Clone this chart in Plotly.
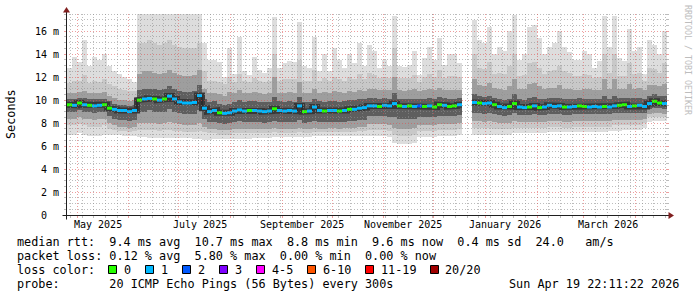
import math
from datetime import datetime, timedelta
import plotly.graph_objects as go

# ---------------- data ----------------
START = datetime(2025, 4, 24, 22, 11, 22)
END = datetime(2026, 4, 19, 22, 11, 22)
STEP_DAYS = 3  # one column = 3 days

median = [
    9.60, 9.55, 9.75, 9.60, 9.55, 9.50, 9.55, 9.60, 9.30, 9.20,
    9.10, 9.10, 9.00, 9.10, 10.00, 10.10, 10.15, 10.10, 10.00, 10.10,
    10.35, 10.10, 9.85, 9.75, 9.75, 9.80, 10.40, 9.30, 9.00, 9.10,
    8.90, 8.85, 8.90, 9.05, 9.15, 9.05, 9.10, 9.10, 9.05, 9.00,
    9.05, 9.25, 9.10, 9.05, 9.10, 9.05, 9.50, 9.00, 9.05, 9.40,
    9.10, 9.05, 9.10, 9.10, 9.05, 9.10, 9.20, 9.20, 9.30, 9.35,
    9.50, 9.50, 9.45, 9.55, 9.50, 9.70, 9.50, 9.45, 9.50, 9.45,
    9.50, 9.45, 9.50, 9.40, 9.60, 9.55, 9.45, 9.50, 9.60, None,
    None, 9.80, 9.75, 9.70, 9.75, 9.60, 9.45, 9.35, 9.45, 9.70,
    9.40, 9.35, 9.40, 9.50, 9.35, 9.40, 9.55, 9.45, 9.50, 9.40,
    9.40, 9.45, 9.50, 9.45, 9.40, 9.45, 9.40, 9.45, 9.40, 9.50,
    9.55, 9.60, 9.45, 9.50, 9.55, 9.45, 9.70, 9.90, 9.75, 9.70,
]
loss = [
    0, 1, 0, 1, 0, 1, 1, 0, 0, 1,
    1, 1, 1, 1, 0, 1, 1, 0, 1, 0,
    1, 1, 1, 1, 1, 1, 1, 1, 1, 1,
    0, 1, 1, 1, 1, 1, 0, 1, 1, 1,
    1, 0, 1, 1, 1, 1, 1, 0, 1, 1,
    1, 0, 1, 1, 0, 1, 0, 1, 1, 1,
    1, 1, 0, 1, 1, 1, 0, 1, 0, 1,
    2, 0, 1, 0, 0, 1, 0, 0, 1, None,
    None, 1, 0, 1, 1, 0, 1, 1, 0, 0,
    1, 1, 0, 1, 0, 1, 1, 1, 1, 0,
    1, 1, 0, 0, 1, 1, 1, 0, 1, 1,
    0, 0, 1, 0, 1, 1, 1, 0, 0, 1,
]
top = [
    12.8, 13.8, 13.3, 15.2, 13.0, 13.8, 13.5, 14.0, 13.0, 12.5,
    12.3, 12.0, 11.8, 11.6, 17.6, 17.6, 17.6, 17.6, 17.6, 17.6,
    17.6, 17.6, 17.6, 17.6, 17.6, 17.6, 17.6, 15.0, 13.5, 13.5,
    13.3, 12.0, 14.5, 12.3, 15.5, 12.5, 12.2, 13.8, 12.6, 12.4,
    12.8, 17.2, 12.8, 13.2, 13.4, 13.3, 16.8, 13.0, 12.8, 15.5,
    12.5, 14.0, 12.5, 14.5, 13.5, 12.8, 14.0, 13.2, 15.0, 13.0,
    14.8, 14.3, 12.8, 13.5, 13.0, 17.3, 13.0, 12.9, 13.1, 14.3,
    12.2, 13.7, 14.6, 13.5, 15.4, 13.1, 14.0, 14.0, 13.2, None,
    None, 17.0, 15.2, 15.0, 16.4, 14.0, 14.6, 14.3, 16.0, 17.4,
    13.5, 14.0, 16.4, 16.5, 15.4, 14.0, 14.6, 15.0, 16.0, 14.6,
    14.2, 13.5, 13.5, 14.3, 14.0, 12.8, 13.4, 17.3, 14.6, 17.3,
    13.7, 13.4, 16.2, 14.3, 14.6, 12.3, 15.2, 14.8, 14.0, 16.0,
]
hi2 = [
    11.5, 11.7, 11.7, 12.2, 11.5, 11.7, 11.6, 11.8, 11.4, 11.2,
    11.0, 10.9, 10.8, 10.8, 15.0, 15.0, 15.2, 15.0, 14.8, 15.0,
    15.2, 14.8, 14.6, 14.5, 14.5, 14.5, 15.0, 12.5, 11.7, 11.7,
    11.6, 11.4, 12.0, 11.6, 12.3, 11.7, 11.6, 11.9, 11.7, 11.6,
    11.7, 14.0, 11.7, 11.8, 11.8, 11.8, 13.5, 11.7, 11.7, 12.6,
    11.7, 11.9, 11.7, 12.0, 11.8, 11.7, 12.0, 11.8, 12.3, 11.8,
    12.4, 12.2, 11.9, 12.0, 11.9, 14.5, 11.9, 11.9, 11.9, 12.2,
    11.6, 12.0, 12.3, 12.0, 12.6, 11.9, 12.1, 12.1, 12.0, None,
    None, 14.0, 12.8, 12.7, 13.3, 12.3, 12.4, 12.3, 13.0, 14.0,
    12.1, 12.2, 13.2, 13.3, 12.8, 12.3, 12.5, 12.6, 13.0, 12.5,
    12.4, 12.1, 12.1, 12.3, 12.2, 11.9, 12.0, 14.0, 12.4, 14.0,
    12.1, 12.1, 13.2, 12.3, 12.4, 11.7, 12.8, 12.7, 12.4, 13.2,
]
hi3 = [
    10.6, 10.6, 10.7, 10.8, 10.6, 10.6, 10.6, 10.7, 10.4, 10.2,
    10.0, 10.0, 9.9, 10.0, 12.3, 12.5, 12.5, 12.4, 12.3, 12.4,
    12.6, 12.4, 12.2, 12.1, 12.1, 12.2, 12.6, 11.0, 10.6, 10.6,
    10.5, 10.4, 10.7, 10.6, 10.9, 10.6, 10.6, 10.7, 10.6, 10.5,
    10.6, 12.0, 10.6, 10.6, 10.7, 10.6, 11.6, 10.6, 10.6, 11.0,
    10.6, 10.7, 10.6, 10.8, 10.7, 10.6, 10.8, 10.7, 10.9, 10.8,
    11.0, 11.0, 10.9, 10.9, 10.9, 12.0, 10.9, 10.8, 10.9, 11.0,
    10.8, 10.9, 11.0, 10.9, 11.1, 10.9, 10.9, 10.9, 10.9, None,
    None, 11.8, 11.3, 11.2, 11.5, 11.1, 11.0, 10.9, 11.2, 11.8,
    11.0, 11.0, 11.4, 11.5, 11.2, 11.0, 11.1, 11.1, 11.3, 11.0,
    11.0, 10.9, 10.9, 11.0, 11.0, 10.9, 10.9, 11.8, 11.0, 11.8,
    11.0, 11.0, 11.4, 11.0, 11.1, 10.9, 11.3, 11.3, 11.2, 11.4,
]
hi4 = [
    10.1, 10.1, 10.2, 10.2, 10.1, 10.1, 10.1, 10.1, 9.9, 9.7,
    9.6, 9.6, 9.5, 9.6, 10.9, 11.0, 11.0, 11.0, 10.9, 11.0,
    11.2, 11.0, 10.8, 10.7, 10.7, 10.8, 11.3, 10.1, 9.8, 9.9,
    9.7, 9.6, 9.7, 9.85, 10.0, 9.85, 9.9, 9.9, 9.85, 9.8,
    9.85, 10.3, 9.9, 9.85, 9.9, 9.85, 10.3, 9.8, 9.85, 10.1,
    9.9, 9.85, 9.9, 9.9, 9.85, 9.9, 10.0, 10.0, 10.1, 10.1,
    10.2, 10.2, 10.1, 10.2, 10.1, 10.6, 10.1, 10.1, 10.1, 10.1,
    10.1, 10.1, 10.2, 10.1, 10.3, 10.2, 10.1, 10.1, 10.2, None,
    None, 10.5, 10.4, 10.3, 10.4, 10.2, 10.1, 10.0, 10.1, 10.5,
    10.1, 10.0, 10.2, 10.3, 10.1, 10.1, 10.2, 10.2, 10.2, 10.1,
    10.1, 10.1, 10.2, 10.1, 10.1, 10.1, 10.1, 10.4, 10.1, 10.4,
    10.2, 10.2, 10.2, 10.2, 10.2, 10.1, 10.4, 10.5, 10.4, 10.4,
]
lo4 = [
    9.0, 9.0, 9.1, 9.0, 9.0, 8.9, 9.0, 9.0, 8.6, 8.4,
    8.3, 8.3, 8.2, 8.3, 9.0, 9.0, 9.1, 9.0, 9.0, 9.0,
    9.2, 9.0, 8.9, 8.8, 8.8, 8.8, 9.1, 8.4, 8.1, 8.1,
    8.0, 7.9, 8.0, 8.1, 8.2, 8.1, 8.1, 8.1, 8.1, 8.0,
    8.1, 8.2, 8.1, 8.1, 8.1, 8.1, 8.3, 8.0, 8.1, 8.2,
    8.1, 8.1, 8.1, 8.1, 8.1, 8.1, 8.2, 8.2, 8.3, 8.3,
    8.6, 8.6, 8.6, 8.6, 8.5, 8.5, 8.4, 8.4, 8.4, 8.4,
    8.5, 8.5, 8.5, 8.5, 8.6, 8.6, 8.6, 8.6, 8.7, None,
    None, 8.9, 8.9, 8.8, 8.9, 8.8, 8.7, 8.6, 8.7, 8.9,
    8.7, 8.7, 8.7, 8.8, 8.7, 8.7, 8.8, 8.8, 8.8, 8.7,
    8.7, 8.8, 8.8, 8.8, 8.8, 8.8, 8.8, 8.8, 8.8, 8.9,
    8.9, 8.9, 8.9, 8.9, 8.9, 8.9, 9.2, 9.3, 9.3, 9.2,
]
lo3 = [
    8.4, 8.4, 8.5, 8.4, 8.4, 8.3, 8.4, 8.4, 8.0, 7.8,
    7.7, 7.7, 7.6, 7.7, 8.0, 8.0, 8.0, 8.0, 7.9, 8.0,
    8.1, 8.0, 7.9, 7.8, 7.8, 7.8, 8.0, 7.7, 7.5, 7.5,
    7.4, 7.4, 7.4, 7.5, 7.5, 7.5, 7.5, 7.5, 7.5, 7.5,
    7.5, 7.6, 7.5, 7.5, 7.5, 7.5, 7.6, 7.5, 7.5, 7.6,
    7.5, 7.5, 7.6, 7.6, 7.5, 7.6, 7.6, 7.6, 7.7, 7.7,
    7.9, 7.9, 7.9, 7.9, 7.8, 7.6, 7.5, 7.5, 7.5, 7.6,
    7.8, 7.8, 7.8, 7.8, 7.9, 7.9, 7.9, 7.9, 8.0, None,
    None, 8.2, 8.2, 8.1, 8.2, 8.1, 8.0, 8.0, 8.0, 8.2,
    8.1, 8.1, 8.1, 8.1, 8.1, 8.1, 8.2, 8.2, 8.2, 8.1,
    8.1, 8.2, 8.2, 8.2, 8.2, 8.2, 8.2, 8.2, 8.2, 8.3,
    8.3, 8.3, 8.3, 8.3, 8.3, 8.4, 8.8, 8.9, 8.9, 8.8,
]
lo2 = [
    7.8, 7.8, 7.9, 7.8, 7.7, 7.7, 7.7, 7.8, 7.5, 7.4,
    7.3, 7.3, 7.2, 7.3, 7.4, 7.4, 7.4, 7.4, 7.3, 7.4,
    7.4, 7.3, 7.3, 7.2, 7.2, 7.2, 7.3, 7.2, 7.1, 7.1,
    7.0, 7.0, 7.0, 7.1, 7.1, 7.1, 7.1, 7.1, 7.1, 7.1,
    7.1, 7.2, 7.1, 7.1, 7.1, 7.1, 7.2, 7.1, 7.1, 7.2,
    7.2, 7.2, 7.2, 7.2, 7.2, 7.2, 7.2, 7.2, 7.3, 7.3,
    7.4, 7.4, 7.4, 7.4, 7.3, 7.0, 6.9, 6.9, 6.9, 7.0,
    7.3, 7.3, 7.3, 7.3, 7.4, 7.4, 7.4, 7.4, 7.5, None,
    None, 7.6, 7.6, 7.6, 7.6, 7.5, 7.5, 7.5, 7.5, 7.6,
    7.6, 7.6, 7.6, 7.6, 7.6, 7.6, 7.7, 7.7, 7.7, 7.6,
    7.6, 7.7, 7.7, 7.7, 7.7, 7.7, 7.7, 7.7, 7.7, 7.8,
    7.8, 7.8, 7.8, 7.8, 7.8, 8.0, 8.5, 8.5, 8.5, 8.5,
]
bot = [
    7.0, 7.0, 7.1, 7.0, 6.9, 6.9, 6.9, 7.0, 7.0, 7.0,
    7.0, 6.9, 6.9, 6.9, 6.8, 6.8, 6.7, 6.7, 6.7, 6.7,
    6.7, 6.7, 6.7, 6.7, 6.7, 6.6, 6.6, 6.5, 6.5, 6.6,
    6.6, 6.6, 6.6, 6.6, 6.6, 6.6, 6.6, 6.7, 6.7, 6.7,
    6.7, 6.8, 6.8, 6.8, 6.8, 6.8, 6.8, 6.8, 6.8, 6.9,
    6.9, 6.9, 6.9, 6.9, 6.9, 6.9, 6.9, 6.9, 6.9, 6.9,
    6.9, 6.9, 6.9, 6.9, 6.8, 6.3, 6.2, 6.2, 6.2, 6.3,
    6.8, 6.8, 6.8, 6.8, 6.9, 6.9, 6.9, 6.9, 7.0, None,
    None, 7.0, 7.0, 7.0, 7.0, 7.0, 7.0, 7.0, 7.0, 7.1,
    7.1, 7.1, 7.1, 7.1, 7.1, 7.1, 7.2, 7.2, 7.2, 7.2,
    7.2, 7.2, 7.2, 7.2, 7.2, 7.2, 7.2, 7.2, 7.3, 7.3,
    7.3, 7.4, 7.4, 7.4, 7.4, 7.6, 8.1, 8.2, 8.2, 8.2,
]

y_ticks = [0, 2, 4, 6, 8, 10, 12, 14, 16]
y_tick_labels = ["0  ", "2 m", "4 m", "6 m", "8 m", "10 m", "12 m", "14 m", "16 m"]
x_label_dates = ["2025-05-13 12:00", "2025-07-13 17:00", "2025-09-12 18:00",
                 "2025-11-12 10:00", "2026-01-12 17:00", "2026-03-15 10:00"]
x_label_text = ["May 2025", "July 2025", "September 2025",
                "November 2025", "January 2026", "March 2026"]

loss_labels = ["0", "1", "2", "3", "4-5", "6-10", "11-19", "20/20"]
loss_colors = ["#26ff00", "#00b8ff", "#0059ff", "#7e00ff", "#ff00ff", "#ff5500", "#ff0000", "#a00000"]
loss_box_px = [108, 145, 182, 219, 256, 307, 365, 430]

legend_rows = [
    "median rtt:  9.4 ms avg  10.7 ms max  8.8 ms min  9.6 ms now  0.4 ms sd  24.0   am/s",
    "packet loss: 0.12 % avg  5.80 % max  0.00 % min  0.00 % now",
    "loss color:",
    "probe:       20 ICMP Echo Pings (56 Bytes) every 300s",
]
date_stamp = "Sun Apr 19 22:11:22 2026"

# ---------------- geometry / styles ----------------
W, H = 697, 297
L, T = 67, 14
PW, PH = 600, 201
YMAX = 17.5
FONT = "DejaVu Sans Mono"
GRID = "rgba(143,143,143,0.6)"
MGRID = "rgba(222,79,79,0.55)"
AXIS = "#1f1f1f"
ARROW = "#801f1f"
DOTS = "1px,2px"
SMOKE = ["#dddddd", "#c8c8c8", "#9e9e9e", "#5e5e5e"]
CORE_COLOR = "#383838"
CORE_WIDTH = 6

span = (END - START).total_seconds()


def t2px(t):
    return L + (t - START).total_seconds() / span * PW


def v2py(v):
    return T + PH * (1 - v / YMAX)


def xp(px):
    return (px - L) / PW


def yp(py):
    return (T + PH - py) / PH


def nb(s):
    return s.replace(" ", "\u00a0")


n = len(median)
col_start = [START + timedelta(days=STEP_DAYS * k) for k in range(n)]
col_end = [START + timedelta(days=STEP_DAYS * (k + 1)) for k in range(n)]
col_mid = [START + timedelta(days=STEP_DAYS * (k + 0.5)) for k in range(n)]
bar_w = STEP_DAYS * 86400 * 1000

fig = go.Figure()

# smoke bands (outer -> inner)
bands = [(bot, top), (lo2, hi2), (lo3, hi3), (lo4, hi4)]
for (lo, hi), colr in zip(bands, SMOKE):
    idx = [k for k in range(n) if lo[k] is not None]
    fig.add_trace(go.Bar(
        x=[col_mid[k] for k in idx],
        y=[hi[k] - lo[k] for k in idx],
        base=[lo[k] for k in idx],
        width=bar_w,
        marker=dict(color=colr, line=dict(width=0)),
        hoverinfo="skip", showlegend=False,
    ))

# median: dark core + connector line
mx, my = [], []
for k in range(n):
    if median[k] is None:
        mx.append(None)
        my.append(None)
        continue
    mx += [col_start[k], col_end[k]]
    my += [median[k], median[k]]
fig.add_trace(go.Scatter(x=mx, y=my, mode="lines", line=dict(color=CORE_COLOR, width=CORE_WIDTH),
                         hoverinfo="skip", showlegend=False))
fig.add_trace(go.Scatter(x=mx, y=my, mode="lines", line=dict(color="#202020", width=1),
                         hoverinfo="skip", showlegend=False))

# coloured median markers by loss class
for c in sorted(set(v for v in loss if v is not None)):
    cx, cy = [], []
    for k in range(n):
        if loss[k] == c:
            cx += [col_start[k], col_end[k], None]
            cy += [median[k], median[k], None]
    fig.add_trace(go.Scatter(x=cx, y=cy, mode="lines", line=dict(color=loss_colors[c], width=3),
                             hoverinfo="skip", showlegend=False))

shapes = []


def seg(x0, y0, x1, y1, color, dash=None):
    ln = dict(color=color, width=1)
    if dash:
        ln["dash"] = dash
    shapes.append(dict(type="line", xref="paper", yref="paper",
                       x0=xp(x0), y0=yp(y0), x1=xp(x1), y1=yp(y1),
                       line=ln, layer="above"))


# horizontal grid
v = 0.5
while v <= YMAX + 1e-9:
    major = abs(v / 2 - round(v / 2)) < 1e-9
    colr = MGRID if major else GRID
    py = math.floor(v2py(v)) + 0.5
    seg(L - 1, py, L + PW + 1, py, colr, DOTS)
    seg(L - 3, py, L - 1, py, colr)
    seg(L + PW, py, L + PW + 2, py, colr)
    v += 0.5

# vertical grid: weekly (Sunday) minor, monthly major
month_starts = []
d = datetime(START.year, START.month, 1)
while d <= END:
    if d >= START:
        month_starts.append(d)
    d = datetime(d.year + (d.month // 12), d.month % 12 + 1, 1)
sundays = []
d = datetime(START.year, START.month, START.day) + timedelta(days=1)
while d.weekday() != 6:
    d += timedelta(days=1)
while d <= END:
    sundays.append(d)
    d += timedelta(days=7)
for d in sundays:
    if d in month_starts:
        continue
    px = math.floor(t2px(d)) + 0.5
    seg(px, T + PH + 1, px, T, GRID, DOTS)
    seg(px, T + PH + 1, px, T + PH + 3, GRID)
for d in month_starts:
    px = math.floor(t2px(d)) + 0.5
    seg(px, T + PH + 1, px, T, MGRID, DOTS)
    seg(px, T + PH + 1, px, T + PH + 3, MGRID)

# axes + arrows
seg(62.5, 215.5, 670.5, 215.5, AXIS)
seg(66.5, 219.5, 66.5, 10.5, AXIS)
shapes.append(dict(type="path", xref="paper", yref="paper",
                   path="M {} {} L {} {} L {} {} Z".format(xp(668.5), yp(212), xp(668.5), yp(219), xp(674), yp(215.5)),
                   fillcolor=ARROW, line=dict(width=0), layer="above"))
shapes.append(dict(type="path", xref="paper", yref="paper",
                   path="M {} {} L {} {} L {} {} Z".format(xp(63), yp(12.5), xp(70), yp(12.5), xp(66.5), yp(7)),
                   fillcolor=ARROW, line=dict(width=0), layer="above"))

# legend colour boxes
for bx, colr in zip(loss_box_px, loss_colors):
    shapes.append(dict(type="rect", xref="paper", yref="paper",
                       x0=xp(bx + 0.5), x1=xp(bx + 8.5), y0=yp(273.5), y1=yp(265.5),
                       fillcolor=colr, line=dict(color="black", width=1), layer="above"))

annotations = []
for val, txt in zip(y_ticks, y_tick_labels):
    annotations.append(dict(xref="paper", yref="y", x=xp(61), y=val, text=nb(txt), showarrow=False,
                            xanchor="right", yanchor="middle",
                            font=dict(family=FONT, size=10, color="black")))
for dt, txt in zip(x_label_dates, x_label_text):
    annotations.append(dict(xref="x", yref="paper", x=dt, y=yp(224.5), text=nb(txt), showarrow=False,
                            xanchor="center", yanchor="middle",
                            font=dict(family=FONT, size=10, color="black")))
row_y = [241.5, 255.5, 269.5, 283.5]
for txt, ry in zip(legend_rows, row_y):
    annotations.append(dict(xref="paper", yref="paper", x=xp(15), y=yp(ry), text=nb(txt), showarrow=False,
                            xanchor="left", yanchor="middle",
                            font=dict(family=FONT, size=11.8, color="black")))
for bx, lab in zip(loss_box_px, loss_labels):
    annotations.append(dict(xref="paper", yref="paper", x=xp(bx + 13.5), y=yp(269.5), text=nb(lab),
                            showarrow=False, xanchor="left", yanchor="middle",
                            font=dict(family=FONT, size=11.8, color="black")))
annotations.append(dict(xref="paper", yref="paper", x=xp(681), y=yp(283.5), text=nb(date_stamp),
                        showarrow=False, xanchor="right", yanchor="middle",
                        font=dict(family=FONT, size=11.8, color="black")))
annotations.append(dict(xref="paper", yref="paper", x=xp(11), y=yp(114), text="Seconds",
                        showarrow=False, textangle=-90, xanchor="center", yanchor="middle",
                        font=dict(family=FONT, size=11.8, color="black")))
annotations.append(dict(xref="paper", yref="paper", x=xp(688), y=yp(60), text=nb("RRDTOOL / TOBI OETIKER"),
                        showarrow=False, textangle=90, xanchor="center", yanchor="middle",
                        font=dict(family=FONT, size=8.3, color="#bdbdbd")))

fig.update_layout(
    width=W, height=H,
    margin=dict(l=L, r=W - L - PW, t=T, b=H - T - PH, pad=0),
    paper_bgcolor="white", plot_bgcolor="white",
    barmode="overlay", bargap=0, showlegend=False,
    xaxis=dict(range=[START, END], type="date", showgrid=False, zeroline=False,
               showticklabels=False, showline=False, ticks=""),
    yaxis=dict(range=[0, YMAX], showgrid=False, zeroline=False,
               showticklabels=False, showline=False, ticks=""),
    shapes=shapes, annotations=annotations,
)

fig.write_html("out.html", config={"displayModeBar": False})
